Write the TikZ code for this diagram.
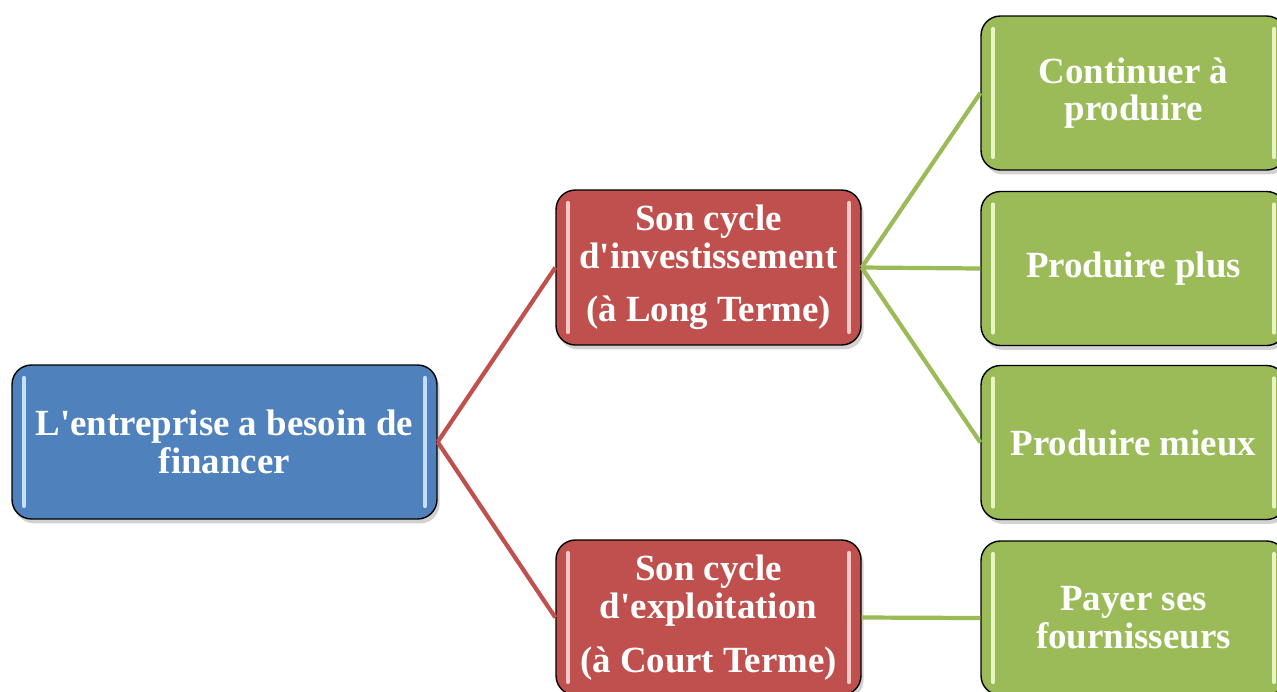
\documentclass[tikz,border=0pt]{standalone}
\usepackage{fontspec}
\setmainfont{Liberation Serif}
\usetikzlibrary{shadows}

\definecolor{rootblue}{HTML}{4F81BD}
\definecolor{cyclered}{HTML}{C0504D}
\definecolor{goalgreen}{HTML}{9BBB59}
\definecolor{rootbar}{HTML}{C6DEF7}
\definecolor{cyclebar}{HTML}{F4C9C7}
\definecolor{goalbar}{HTML}{EAF5C4}

\newcommand{\ap}{\textquotesingle}

\tikzset{
  box/.style 2 args={draw=black, thick, rounded corners=11pt, fill=#1, text=white,
    font=\fontsize{21}{21.5}\selectfont\bfseries, align=center, inner sep=0pt,
    drop shadow={opacity=0.35, shadow xshift=1.5pt, shadow yshift=-2.5pt},
    path picture={
      \draw[line width=2.4pt, #2, line cap=round]
        ([shift={(0.24cm,-0.26cm)}]path picture bounding box.north west) --
        ([shift={(0.24cm,0.26cm)}]path picture bounding box.south west);
      \draw[line width=2.4pt, #2, line cap=round]
        ([shift={(-0.24cm,-0.26cm)}]path picture bounding box.north east) --
        ([shift={(-0.24cm,0.26cm)}]path picture bounding box.south east);
    }},
  rootbox/.style={box={rootblue}{rootbar}, minimum width=8.5cm, minimum height=3.08cm},
  cyclebox/.style={box={cyclered}{cyclebar}, minimum width=6.1cm, minimum height=3.1cm},
  goalbox/.style={box={goalgreen}{goalbar}, minimum width=6.1cm, minimum height=3.08cm},
  redlink/.style={draw=cyclered, line width=2.4pt},
  greenlink/.style={draw=goalgreen, line width=2.4pt}
}

\begin{document}
\begin{tikzpicture}[x=0.02cm, y=-0.02cm]
\useasboundingbox[fill=white] (0,0) rectangle (1277,691);

\node[rootbox] (root) at (224.5,442) {L\ap entreprise a besoin de\\financer};

\node[cyclebox] (invest) at (708.5,267.5) {Son cycle\\d\ap investissement\\[9pt](à Long Terme)};
\node[cyclebox] (exploit) at (708.5,617.5) {Son cycle\\d\ap exploitation\\[9pt](à Court Terme)};

\node[goalbox] (cont) at (1133.5,93) {Continuer à\\produire};
\node[goalbox] (plus) at (1133.5,268.5) {Produire plus};
\node[goalbox] (mieux) at (1133.5,442.5) {Produire mieux};
\node[goalbox] (payer) at (1133.5,618) {Payer ses\\fournisseurs};

\draw[redlink] (root.east) -- (invest.west);
\draw[redlink] (root.east) -- (exploit.west);

\draw[greenlink] (invest.east) -- (cont.west);
\draw[greenlink] (invest.east) -- (plus.west);
\draw[greenlink] (invest.east) -- (mieux.west);
\draw[greenlink] (exploit.east) -- (payer.west);
\end{tikzpicture}
\end{document}
